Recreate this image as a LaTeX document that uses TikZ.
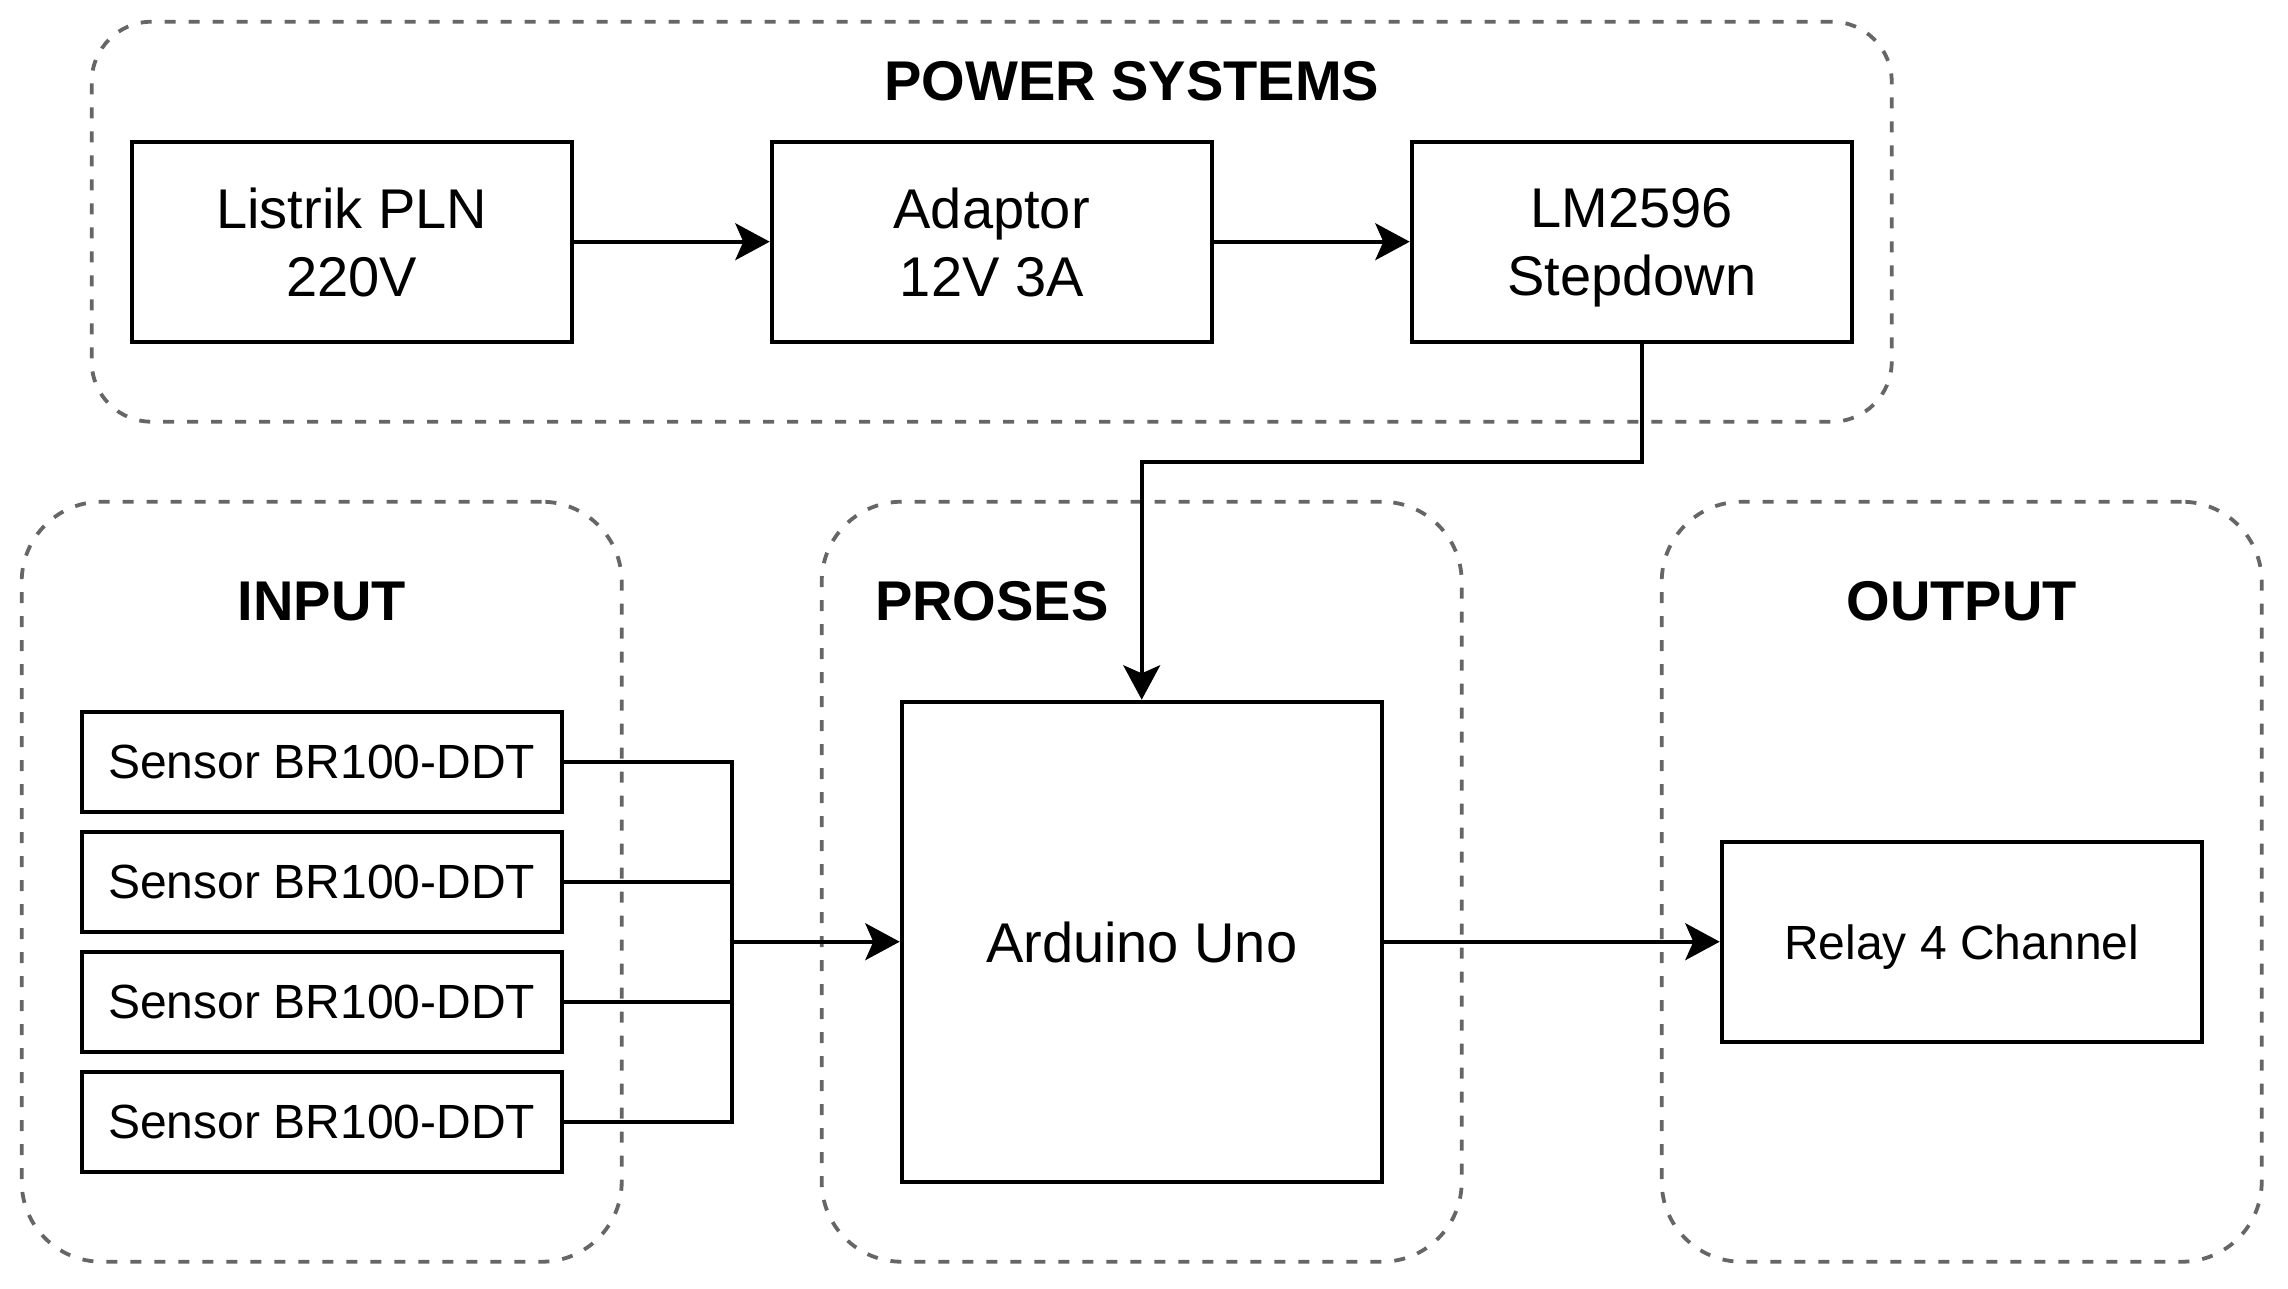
\documentclass[tikz,border=0pt]{standalone}
\usepackage{fontspec}
\setmainfont{Liberation Sans}
\usetikzlibrary{arrows.meta,positioning}
\definecolor{groupgray}{HTML}{666666}

\begin{document}
\begin{tikzpicture}[x=0.25pt, y=-0.25pt, line width=1pt,
    >={Stealth[length=8.6pt,width=9.2pt,inset=2pt]},
    block/.style={draw, align=center, inner sep=0pt, text depth=0pt, minimum width=110pt,
      minimum height=50pt, font=\fontsize{14}{17}\selectfont},
    sensor/.style={draw, inner sep=0pt, text depth=0pt, minimum width=120pt,
      minimum height=25pt, font=\fontsize{12}{14.4}\selectfont},
    group/.style={draw=groupgray, line width=0.95pt, dash pattern=on 2.75pt off 3.25pt,
      rounded corners=20pt, inner sep=0pt, minimum width=150pt, minimum height=190pt},
    title/.style={inner sep=0pt, font=\bfseries\fontsize{14}{17}\selectfont}]

  \useasboundingbox (0,0) rectangle (2288,1288);

  % groups
  \node[group, minimum width=450pt, minimum height=100pt, rounded corners=15pt] (power) at (991.7,221.7) {};
  \node[group]                         (input)  at (321.7,881.7)  {};
  \node[group, minimum width=160pt]    (proses) at (1141.7,881.7) {};
  \node[group]                         (output) at (1961.7,881.7) {};

  \node[title] (powertitle)  at (1131.7,81) {POWER SYSTEMS};
  \node[title] (inputtitle)  at (321.7,601) {INPUT};
  \node[title] (prosestitle) at (991.7,601) {PROSES};
  \node[title] (outputtitle) at (1961.7,601) {OUTPUT};

  % power
  \node[block]                      (listrik) at (351.7,241.7) {Listrik PLN\\220V};
  \node[block, right=49pt of listrik] (adaptor)                {Adaptor\\12V 3A};
  \node[block, right=49pt of adaptor] (lm)                     {LM2596\\Stepdown};

  % input
  \node[sensor]                  (s1) at (321.7,761.7) {Sensor BR100-DDT};
  \node[sensor, below=4pt of s1] (s2)                  {Sensor BR100-DDT};
  \node[sensor, below=4pt of s2] (s3)                  {Sensor BR100-DDT};
  \node[sensor, below=4pt of s3] (s4)                  {Sensor BR100-DDT};

  % proses, output
  \node[block, minimum width=120pt, minimum height=120pt] (arduino) at (1141.7,941.7) {Arduino Uno};
  \node[sensor, minimum height=50pt] (relay) at (1961.7,941.7) {Relay 4 Channel};

  \coordinate (bus) at (731.7,941.7);

  \draw[->] (listrik) -- (adaptor);
  \draw[->] (adaptor) -- (lm);
  \draw[->] ([xshift=2.5pt]lm.south) -- ++(0,118) -| (arduino.north);
  \foreach \s in {s1,s2,s3,s4}
    \draw (\s.east) -| (bus);
  \draw[->] (bus) -- (arduino);
  \draw[->] (arduino) -- (relay);
\end{tikzpicture}
\end{document}
